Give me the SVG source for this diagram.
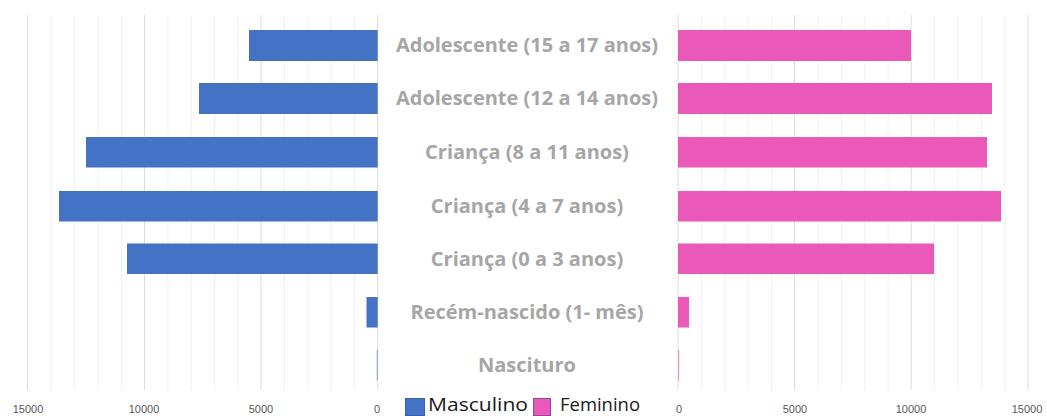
<svg xmlns="http://www.w3.org/2000/svg" width="1047" height="416" viewBox="0 0 1047 416">
  <style>
    .minor { stroke: #f0f0f0; stroke-width: 1; }
    .major { stroke: #dcdcdc; stroke-width: 1; }
    .m { fill: #4472c4; }
    .f { fill: #ea58b9; }
    .cat { font-family: "Open Sans", "Liberation Sans", sans-serif; font-weight: 700; font-size: 20px; fill: #a6a6a6; text-anchor: middle; }
    .tick { font-family: "Liberation Sans", "Open Sans", sans-serif; font-size: 11px; fill: #595959; text-anchor: middle; }
    .leg { font-family: "Open Sans", "Liberation Sans", sans-serif; font-size: 18.5px; fill: #1a1a1a; }
  </style>
  <rect width="1047" height="416" fill="#ffffff"/>
  <g id="grid">
    <path class="minor" d="M51.3 15V390M74.7 15V390M98.1 15V390M121.5 15V390M167.9 15V390M191.3 15V390M214.7 15V390M238.1 15V390M284.5 15V390M307.9 15V390M331.3 15V390M354.7 15V390"/>
    <path class="major" d="M27.5 15V390M144.5 15V390M261.1 15V390M377.7 15V390"/>
    <path class="minor" d="M701.3 15V390M724.7 15V390M748.1 15V390M771.5 15V390M817.9 15V390M841.3 15V390M864.7 15V390M888.1 15V390M934.5 15V390M957.9 15V390M981.3 15V390M1004.7 15V390"/>
    <path class="major" d="M678 15V390M794.5 15V390M911.1 15V390M1028 15V390"/>
  </g>
  <g id="masculino">
    <rect class="m" x="249" y="30" width="128.7" height="31"/>
    <rect class="m" x="199" y="83" width="178.7" height="31"/>
    <rect class="m" x="86" y="137" width="291.7" height="30.5"/>
    <rect class="m" x="59" y="191" width="318.7" height="30.5"/>
    <rect class="m" x="127" y="243.5" width="250.7" height="30.5"/>
    <rect class="m" x="366.5" y="297" width="11.2" height="30.5"/>
    <rect class="m" x="376.7" y="350" width="1" height="30.5" opacity="0.6"/>
  </g>
  <g id="feminino">
    <rect class="f" x="678" y="30" width="233" height="31"/>
    <rect class="f" x="678" y="83" width="314" height="31"/>
    <rect class="f" x="678" y="137" width="309" height="30.5"/>
    <rect class="f" x="678" y="191" width="323" height="30.5"/>
    <rect class="f" x="678" y="243.5" width="256" height="30.5"/>
    <rect class="f" x="678" y="297" width="11" height="30.5"/>
    <rect class="f" x="678" y="350" width="1.2" height="30.5" opacity="0.6"/>
  </g>
  <g id="categories">
    <text class="cat" x="527" y="52">Adolescente (15 a 17 anos)</text>
    <text class="cat" x="527" y="105">Adolescente (12 a 14 anos)</text>
    <text class="cat" x="527" y="159">Criança (8 a 11 anos)</text>
    <text class="cat" x="527" y="213">Criança (4 a 7 anos)</text>
    <text class="cat" x="527" y="266">Criança (0 a 3 anos)</text>
    <text class="cat" x="527" y="319">Recém-nascido (1- mês)</text>
    <text class="cat" x="527" y="372">Nascituro</text>
  </g>
  <g id="axis">
    <text class="tick" x="28" y="413">15000</text>
    <text class="tick" x="144" y="413">10000</text>
    <text class="tick" x="261" y="413">5000</text>
    <text class="tick" x="377" y="413">0</text>
    <text class="tick" x="679" y="413">0</text>
    <text class="tick" x="795" y="413">5000</text>
    <text class="tick" x="911" y="413">10000</text>
    <text class="tick" x="1027" y="413">15000</text>
  </g>
  <g id="legend">
    <rect x="405.5" y="398.5" width="19" height="17" fill="#4472c4" stroke="#3a62a8" stroke-width="1"/>
    <text class="leg" x="428" y="411" textLength="100" lengthAdjust="spacingAndGlyphs">Masculino</text>
    <rect x="533.5" y="398.5" width="17" height="17" fill="#ea58b9" stroke="#8a4a9a" stroke-width="1"/>
    <text class="leg" x="560" y="411" textLength="80" lengthAdjust="spacingAndGlyphs">Feminino</text>
  </g>
</svg>
